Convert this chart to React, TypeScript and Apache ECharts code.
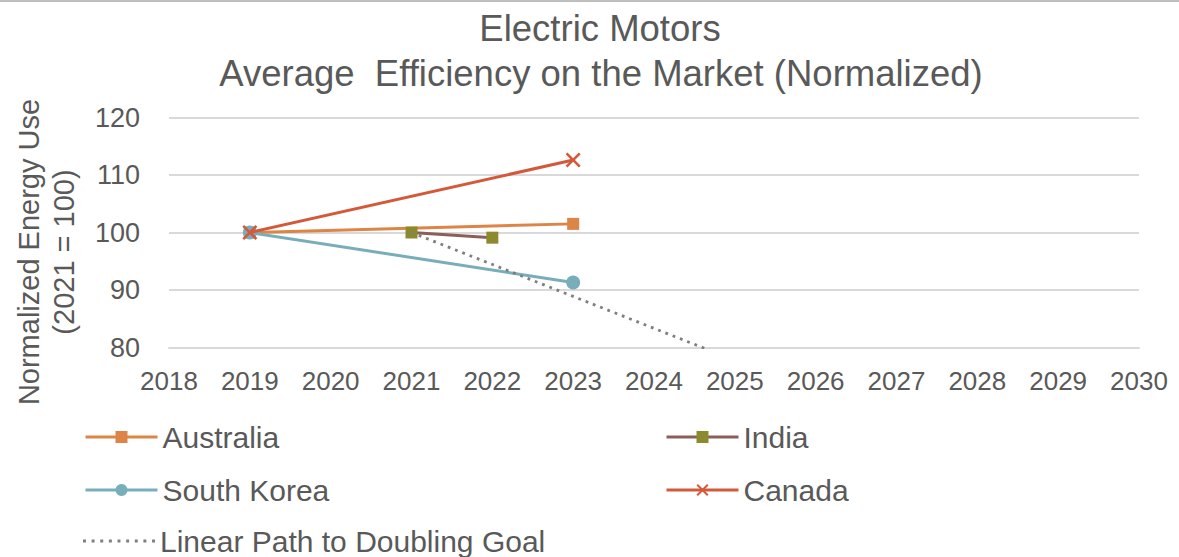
import { useEffect, useRef } from "react";
import * as echarts from "echarts";

// Axis ranges and ticks
const yearTicks = [2018, 2019, 2020, 2021, 2022, 2023, 2024, 2025, 2026, 2027, 2028, 2029, 2030];
const valueTicks = [80, 90, 100, 110, 120];

// Normalized energy use per country: [year, value]
const australia: [number, number][] = [
  [2019, 100],
  [2023, 101.5],
];
const india: [number, number][] = [
  [2021, 100],
  [2022, 99.1],
];
const southKorea: [number, number][] = [
  [2019, 100],
  [2023, 91.3],
];
const canada: [number, number][] = [
  [2019, 100],
  [2023, 112.6],
];
// Straight line from 2021 (=100) to half the energy use by 2030
const doublingPath: [number, number][] = [
  [2021, 100],
  [2030, 50],
];

const FONT = "'Liberation Sans', Arial, sans-serif";
const TEXT = "#595959";
const GRID = "#D9D9D9";

const CROSS =
  "path://M0,1.2L1.2,0L5,3.8L8.8,0L10,1.2L6.2,5L10,8.8L8.8,10L5,6.2L1.2,10L0,8.8L3.8,5Z";

// Dotted legend sample: nine small squares
const DOTS =
  "path://" +
  Array.from({ length: 9 }, (_, i) => {
    const x = i * 7.6;
    return `M${x},0h2.6v2.6h-2.6Z`;
  }).join("");

export default function App() {
  const ref = useRef<HTMLDivElement>(null);

  useEffect(() => {
    if (!ref.current) return;
    const chart = echarts.init(ref.current, undefined, { renderer: "svg" });

    const legendBase = {
      orient: "horizontal" as const,
      padding: 0,
      itemWidth: 72,
      itemHeight: 15,
      symbolKeepAspect: true,
      selectedMode: false,
      lineStyle: { width: 3 },
      textStyle: { fontFamily: FONT, fontSize: 30, color: TEXT, lineHeight: 32 },
    };

    chart.setOption({
      animation: false,
      backgroundColor: "#FFFFFF",
      grid: {
        left: 169,
        right: 40,
        top: 117.5,
        bottom: 209.5,
        containLabel: false,
        outerBoundsMode: "none",
      },
      graphic: [
        {
          type: "line",
          shape: { x1: 0, y1: 1, x2: 1179, y2: 1 },
          style: { stroke: "#BFBFBF", lineWidth: 2 },
        },
        {
          type: "text",
          x: 600,
          y: 28,
          style: {
            text: "Electric Motors",
            fontFamily: FONT,
            fontSize: 36.5,
            fill: TEXT,
            textAlign: "center",
            textVerticalAlign: "middle",
          },
        },
        {
          type: "text",
          x: 601,
          y: 73,
          style: {
            text: "Average  Efficiency on the Market (Normalized)",
            fontFamily: FONT,
            fontSize: 36.5,
            fill: TEXT,
            textAlign: "center",
            textVerticalAlign: "middle",
          },
        },
        {
          type: "text",
          x: 46,
          y: 252,
          rotation: Math.PI / 2,
          style: {
            text: "Normalized Energy Use\n(2021 = 100)",
            fontFamily: FONT,
            fontSize: 29,
            lineHeight: 35,
            fill: TEXT,
            textAlign: "center",
            textVerticalAlign: "middle",
          },
        },
      ],
      xAxis: {
        type: "value",
        min: yearTicks[0],
        max: yearTicks[yearTicks.length - 1],
        interval: 1,
        axisLine: { show: true, lineStyle: { color: GRID, width: 2 } },
        axisTick: { show: false },
        splitLine: { show: false },
        axisLabel: {
          margin: 20,
          color: TEXT,
          fontFamily: FONT,
          fontSize: 26,
          formatter: (v: number) => String(v),
        },
      },
      yAxis: {
        type: "value",
        min: valueTicks[0],
        max: valueTicks[valueTicks.length - 1],
        interval: 10,
        axisLine: { show: false },
        axisTick: { show: false },
        splitLine: { show: true, lineStyle: { color: GRID, width: 2 } },
        axisLabel: {
          margin: 29,
          color: TEXT,
          fontFamily: FONT,
          fontSize: 27,
        },
      },
      legend: [
        { ...legendBase, left: 84, top: 421, data: ["Australia"] },
        { ...legendBase, left: 665, top: 421, data: ["India"] },
        { ...legendBase, left: 84, top: 474, data: ["South Korea"] },
        { ...legendBase, left: 665, top: 474, data: ["Canada"] },
        {
          ...legendBase,
          left: 83,
          top: 525,
          data: [{ name: "Linear Path to Doubling Goal", icon: DOTS, itemStyle: { color: "#7F7F7F" } }],
        },
      ],
      series: [
        {
          name: "Australia",
          type: "line",
          data: australia,
          symbol: "rect",
          symbolSize: 12,
          lineStyle: { color: "#DD8447", width: 3 },
          itemStyle: { color: "#DD8447" },
          z: 2,
        },
        {
          name: "India",
          type: "line",
          data: india,
          symbol: "rect",
          symbolSize: 12,
          lineStyle: { color: "#8C5E59", width: 3 },
          itemStyle: { color: "#8C8A2D" },
          z: 3,
        },
        {
          name: "South Korea",
          type: "line",
          data: southKorea,
          symbol: "circle",
          symbolSize: 14,
          lineStyle: { color: "#78ADBA", width: 3 },
          itemStyle: { color: "#78ADBA" },
          z: 4,
        },
        {
          name: "Canada",
          type: "line",
          data: canada,
          symbol: CROSS,
          symbolSize: 15,
          lineStyle: { color: "#D4583A", width: 3 },
          itemStyle: { color: "#D4583A" },
          z: 5,
        },
        {
          name: "Linear Path to Doubling Goal",
          type: "line",
          data: doublingPath,
          symbol: "none",
          clip: true,
          lineStyle: { color: "#7F7F7F", width: 2.8, type: [2.8, 5] },
          itemStyle: { color: "#7F7F7F" },
          z: 6,
        },
      ],
    });

    return () => chart.dispose();
  }, []);

  return (
    <div
      ref={ref}
      style={{ position: "absolute", left: 0, top: 0, width: 1179, height: 557, background: "#FFFFFF" }}
    />
  );
}
